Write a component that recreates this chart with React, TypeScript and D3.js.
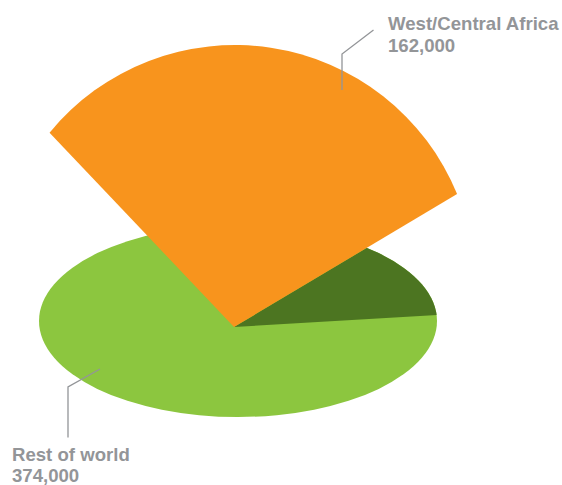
import React from "react";
import * as d3 from "d3";

// Slice values, clockwise from the raised wedge
const regions = ["West/Central Africa", "Other", "Rest of world"];
const infections = [162000, 42000, 374000];
const sliceColors = ["#F8941D", "#4C7521", "#8CC63F"];

// Canvas and the tilted disc
const width = 562;
const height = 485;
const disc = { cx: 238, cy: 321, rx: 199, ry: 96 };
const apex: [number, number] = [234, 327];
const raisedRim = { cx: 235, cy: 285, r: 240 };

// Screen bearings (degrees clockwise from straight up) of the slice edges once tilted
const tiltedBearings = [-43.5, 59.2, 86.6];

// Label text and leader lines
const labelColor = "#939598";
const labelFont = "'Liberation Sans', Arial, sans-serif";
const topLeader: [number, number][] = [[373.5, 30], [342, 54], [342, 90]];
const bottomLeader: [number, number][] = [[100, 369], [68, 387], [68, 437.5]];

const slices = d3
  .pie<number>()
  .sort(null)
  .value((d) => d)(infections);

// Perspective of the disc: pie angle to on-screen bearing
const bearing = d3
  .scaleLinear()
  .domain([slices[0].startAngle, slices[1].startAngle, slices[2].startAngle])
  .range(tiltedBearings.map((d) => (d * Math.PI) / 180));

// Where a ray leaving the apex crosses the rim of the raised wedge
function rimAngle(b: number): number {
  const ux = Math.sin(b);
  const uy = -Math.cos(b);
  const ox = apex[0] - raisedRim.cx;
  const oy = apex[1] - raisedRim.cy;
  const along = ox * ux + oy * uy;
  const t = -along + Math.sqrt(along * along - (ox * ox + oy * oy - raisedRim.r * raisedRim.r));
  return Math.atan2(oy + t * uy, ox + t * ux);
}

function raisedWedgePath(): string {
  const from = rimAngle(bearing(slices[0].startAngle));
  const to = rimAngle(bearing(slices[0].endAngle));
  const p = d3.path();
  p.moveTo(apex[0], apex[1]);
  p.lineTo(raisedRim.cx + raisedRim.r * Math.cos(from), raisedRim.cy + raisedRim.r * Math.sin(from));
  p.arc(raisedRim.cx, raisedRim.cy, raisedRim.r, from, to);
  p.closePath();
  return p.toString();
}

const fullDisc = d3.arc()({ innerRadius: 0, outerRadius: 1, startAngle: 0, endAngle: 2 * Math.PI }) as string;
const darkWedge = d3.arc()({
  innerRadius: 0,
  outerRadius: 320,
  startAngle: bearing(slices[1].startAngle),
  endAngle: bearing(slices[1].endAngle),
}) as string;

const leaderLine = d3.line();
const fmt = d3.format(",");
const discTransform = `translate(${disc.cx},${disc.cy}) scale(${disc.rx},${disc.ry})`;

export default function App() {
  return (
    <svg
      width={width}
      height={height}
      viewBox={`0 0 ${width} ${height}`}
      style={{ position: "absolute", left: 0, top: 0, background: "#fff" }}
    >
      <defs>
        <clipPath id="disc-clip">
          <path d={fullDisc} transform={discTransform} />
        </clipPath>
      </defs>

      <path d={fullDisc} transform={discTransform} fill={sliceColors[2]} />
      <g clipPath="url(#disc-clip)">
        <path d={darkWedge} transform={`translate(${apex[0]},${apex[1]})`} fill={sliceColors[1]} />
      </g>
      <path d={raisedWedgePath()} fill={sliceColors[0]} />

      <path d={leaderLine(topLeader) as string} fill="none" stroke={labelColor} strokeWidth={1.3} />
      <path d={leaderLine(bottomLeader) as string} fill="none" stroke={labelColor} strokeWidth={1.3} />

      <g fontFamily={labelFont} fontWeight={700} fontSize={18.6} fill={labelColor}>
        <text x={388} y={30}>{regions[0]}</text>
        <text x={388} y={52}>{fmt(infections[0])}</text>
        <text x={12} y={461}>{regions[2]}</text>
        <text x={12} y={482}>{fmt(infections[2])}</text>
      </g>
    </svg>
  );
}
